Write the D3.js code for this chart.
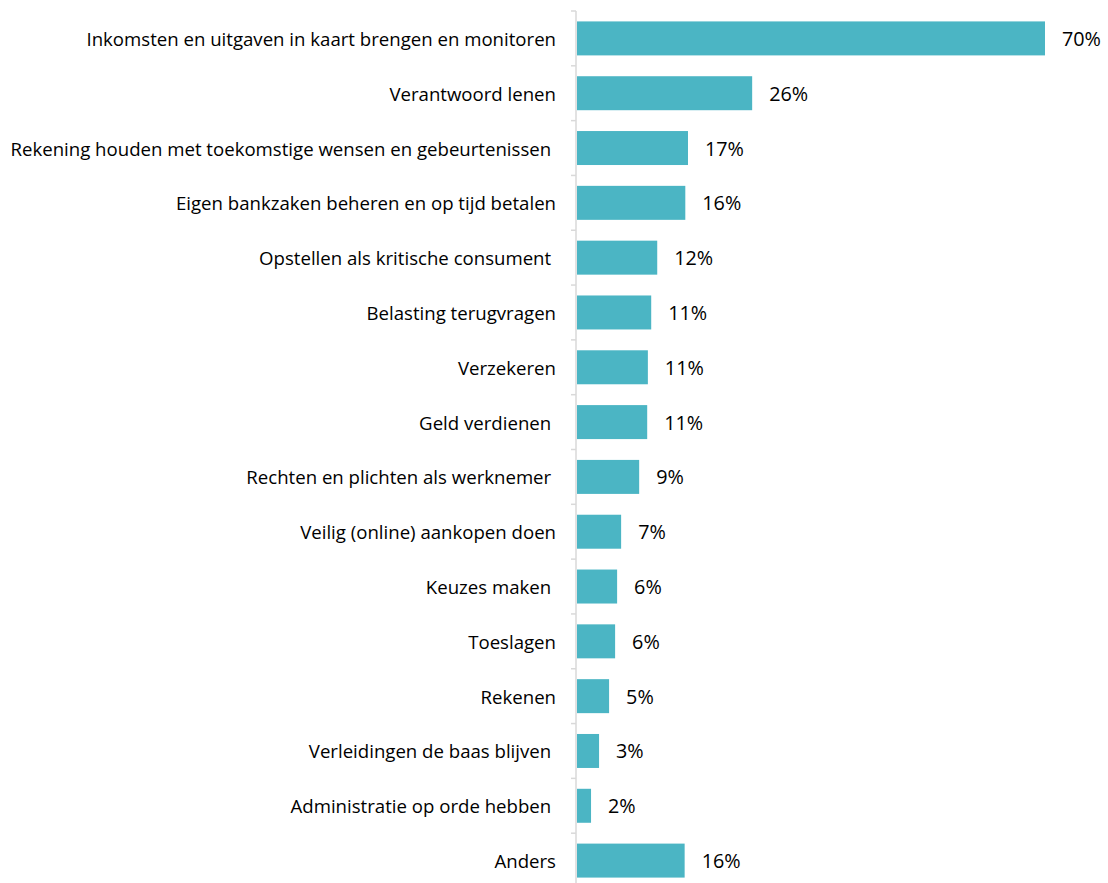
<!DOCTYPE html>
<html><head><meta charset="utf-8">
<script src="https://cdn.jsdelivr.net/npm/d3@7"></script>
<style>body{margin:0;background:#fff}svg text{white-space:pre}</style>
</head><body><svg id="c" width="1108" height="883"></svg>
<script>
const categories = [
"Inkomsten en uitgaven in kaart brengen en monitoren",
"Verantwoord lenen",
"Rekening houden met toekomstige wensen en gebeurtenissen ",
"Eigen bankzaken beheren en op tijd betalen",
"Opstellen als kritische consument ",
"Belasting terugvragen",
"Verzekeren",
"Geld verdienen ",
"Rechten en plichten als werknemer ",
"Veilig (online) aankopen doen",
"Keuzes maken ",
"Toeslagen",
"Rekenen",
"Verleidingen de baas blijven ",
"Administratie op orde hebben ",
"Anders"];
const values = [70, 26.2, 16.6, 16.2, 12, 11.1, 10.6, 10.5, 9.3, 6.6, 6, 5.7, 4.8, 3.3, 2.1, 16.1];
const valueLabels = ["70%","26%","17%","16%","12%","11%","11%","11%","9%","7%","6%","6%","5%","3%","2%","16%"];

const svg = d3.select("#c");
const font = "'Open Sans', sans-serif";
const x = d3.scaleLinear().domain([0, 70]).range([577, 1045]);
const y = d3.scaleBand().domain(categories).range([11, 888]).paddingInner(0.38).paddingOuter(0.19);

// measure font sizes
function fitSize(txt, target){
  const t = svg.append("text").attr("font-family", font).attr("font-size", 20).text(txt);
  const w = t.node().getComputedTextLength(); t.remove();
  return 20 * target / w;
}
const catSize = fitSize("Rekening houden met toekomstige wensen en gebeurtenissen", 541);
const valSize = fitSize("70%", 39);

svg.append("g").selectAll("rect").data(values).join("rect")
  .attr("x", x(0)).attr("y", (d,i)=>y(categories[i]))
  .attr("width", d=>x(d)-x(0)).attr("height", y.bandwidth())
  .attr("fill", "#4BB5C4");

// axis
const step = y.step();
const ticks = d3.range(categories.length + 1).map(i => 11 + i*step);
const ax = svg.append("g").attr("stroke", "#d9d9d9").attr("stroke-width", 1.5);
ax.append("line").attr("x1", 576).attr("x2", 576).attr("y1", 11).attr("y2", 883);
ax.selectAll("line.t").data(ticks).join("line").attr("class","t")
  .attr("x1", 571).attr("x2", 576).attr("y1", d=>d).attr("y2", d=>d);

svg.append("g").selectAll("text").data(categories).join("text")
  .attr("x", 556).attr("y", d=>y(d)+y.bandwidth()/2)
  .attr("text-anchor","end").attr("dominant-baseline","central")
  .attr("font-family", font).attr("font-size", catSize).attr("fill","#000")
  .text(d=>d);

svg.append("g").selectAll("text").data(values).join("text")
  .attr("x", d=>x(d)+17).attr("y", (d,i)=>y(categories[i])+y.bandwidth()/2)
  .attr("dominant-baseline","central")
  .attr("font-family", font).attr("font-size", valSize).attr("fill","#000")
  .text((d,i)=>valueLabels[i]);
</script></body></html>
